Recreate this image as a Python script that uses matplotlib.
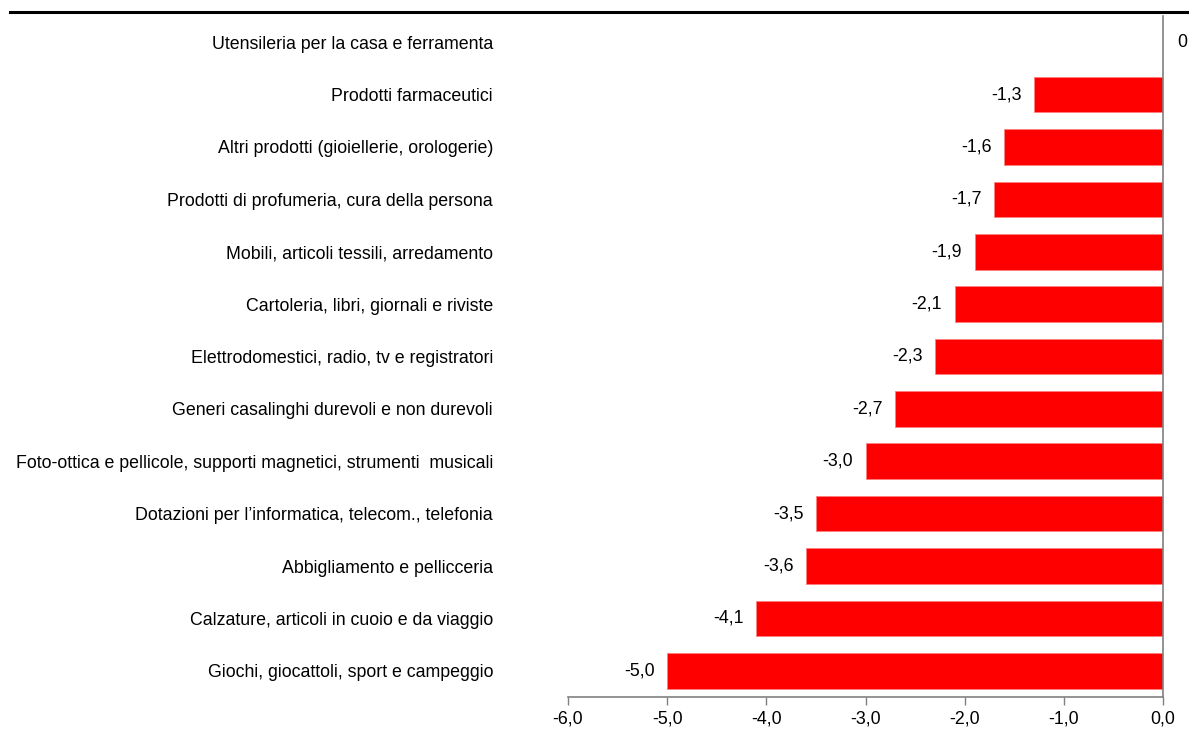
import matplotlib.pyplot as plt
from matplotlib.lines import Line2D

# dati (dall'alto verso il basso)
categorie = [
    "Utensileria per la casa e ferramenta",
    "Prodotti farmaceutici",
    "Altri prodotti (gioiellerie, orologerie)",
    "Prodotti di profumeria, cura della persona",
    "Mobili, articoli tessili, arredamento",
    "Cartoleria, libri, giornali e riviste",
    "Elettrodomestici, radio, tv e registratori",
    "Generi casalinghi durevoli e non durevoli",
    "Foto-ottica e pellicole, supporti magnetici, strumenti  musicali",
    "Dotazioni per l\u2019informatica, telecom., telefonia",
    "Abbigliamento e pellicceria",
    "Calzature, articoli in cuoio e da viaggio",
    "Giochi, giocattoli, sport e campeggio",
]
valori = [0.0, -1.3, -1.6, -1.7, -1.9, -2.1, -2.3, -2.7, -3.0, -3.5, -3.6, -4.1, -5.0]
tick_x = [-6, -5, -4, -3, -2, -1, 0]

plt.rcParams["font.family"] = ["Liberation Sans", "DejaVu Sans"]
fs = 12.8

fig = plt.figure(figsize=(11.89, 7.36), dpi=100)
ax = fig.add_axes([568 / 1189, 39 / 736, 595 / 1189, 681 / 736])

pos = list(range(len(categorie)))
ax.barh(pos, valori, height=0.68, color="#ff0000", edgecolor="#ff8080", linewidth=0.6)
ax.set_ylim(len(categorie) - 0.5, -0.5)
ax.set_xlim(-6, 0)

ax.set_yticks(pos)
ax.set_yticklabels(categorie, fontsize=fs)
ax.tick_params(axis="y", length=0, pad=54)

ax.set_xticks(tick_x)
ax.set_xticklabels([f"{t:.1f}".replace(".", ",") for t in tick_x], fontsize=fs)
ax.tick_params(axis="x", direction="out", length=6, width=1, color="#808080", pad=4)

for s in ["top", "left"]:
    ax.spines[s].set_visible(False)
for s in ["bottom", "right"]:
    ax.spines[s].set_color("#808080")
    ax.spines[s].set_linewidth(1.2)

# etichette dei valori
for p, v in zip(pos, valori):
    testo = f"{v:.1f}".replace(".", ",") if v != 0 else "0"
    if v < 0:
        ax.annotate(testo, (v, p), xytext=(-9, 0), textcoords="offset points",
                    ha="right", va="center", fontsize=fs)
    else:
        ax.annotate(testo, (v, p), xytext=(10, 0), textcoords="offset points",
                    ha="left", va="center", fontsize=fs)

# linea in alto
fig.add_artist(Line2D([10 / 1189, 1.0], [1 - 12 / 736, 1 - 12 / 736],
                      color="black", linewidth=2.2, transform=fig.transFigure))

fig.savefig("out.png", dpi=100)
